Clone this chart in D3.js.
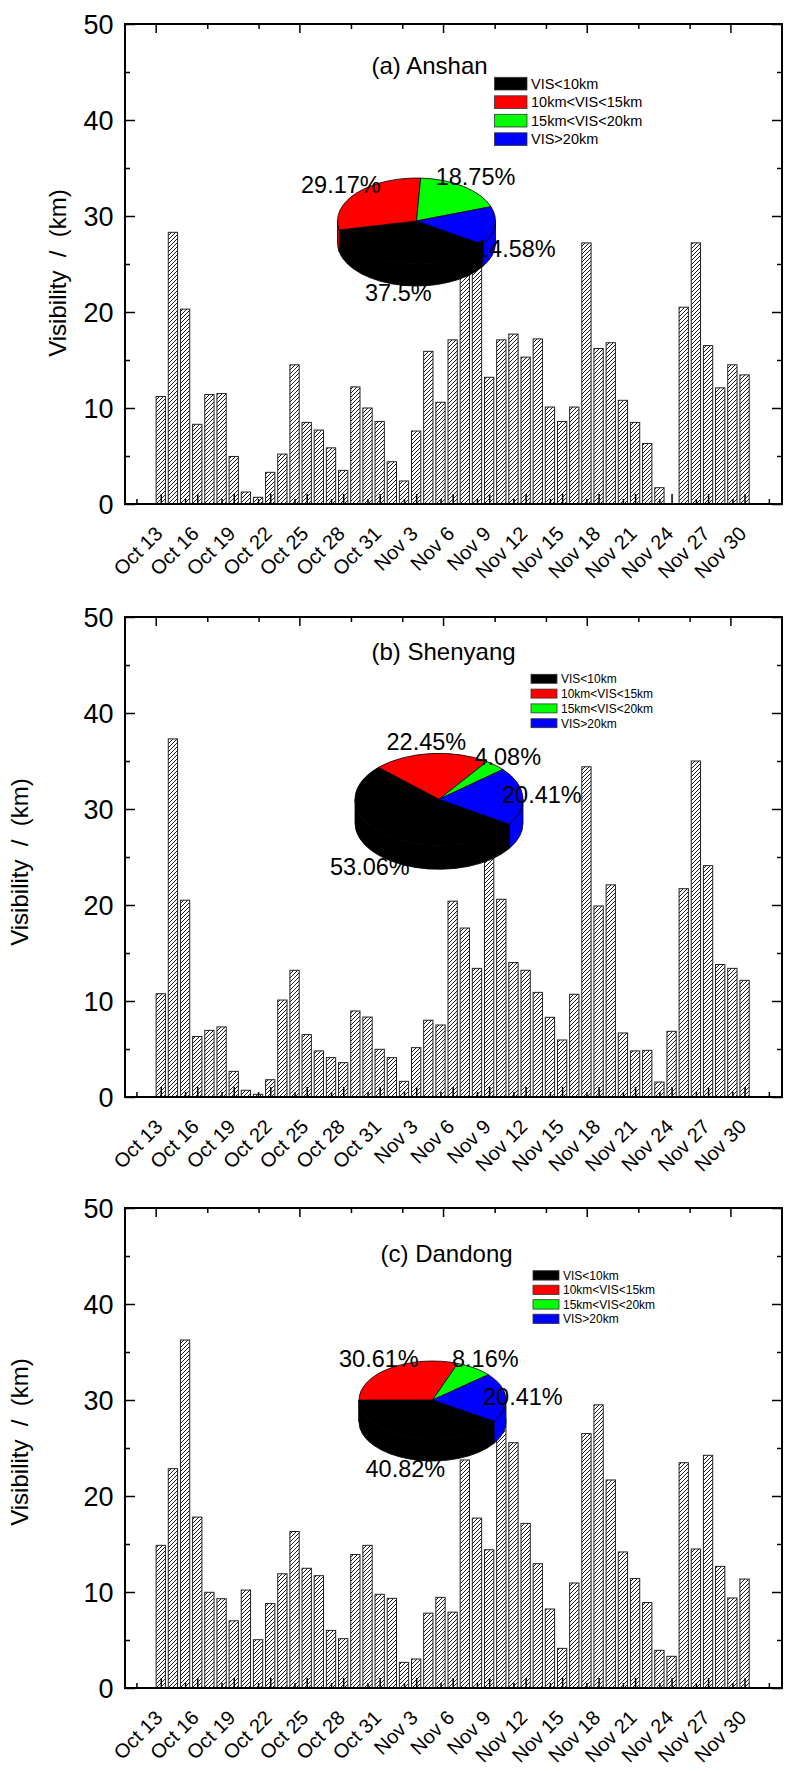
<!DOCTYPE html>
<html>
<head>
<meta charset="utf-8">
<script src="https://cdn.jsdelivr.net/npm/d3@7/dist/d3.min.js"></script>
<style>
  body { margin: 0; background: #fff; }
  text { font-family: Arial, "Liberation Sans", sans-serif; fill: #000; }
</style>
</head>
<body>
<svg id="chart" width="787" height="1771"></svg>
<script>
// --- data ---
const days = [
  "Oct 13","Oct 14","Oct 15","Oct 16","Oct 17","Oct 18","Oct 19","Oct 20","Oct 21","Oct 22",
  "Oct 23","Oct 24","Oct 25","Oct 26","Oct 27","Oct 28","Oct 29","Oct 30","Oct 31","Nov 1",
  "Nov 2","Nov 3","Nov 4","Nov 5","Nov 6","Nov 7","Nov 8","Nov 9","Nov 10","Nov 11",
  "Nov 12","Nov 13","Nov 14","Nov 15","Nov 16","Nov 17","Nov 18","Nov 19","Nov 20","Nov 21",
  "Nov 22","Nov 23","Nov 24","Nov 25","Nov 26","Nov 27","Nov 28","Nov 29","Nov 30"
];
const tickLabels = ["Oct 13","Oct 16","Oct 19","Oct 22","Oct 25","Oct 28","Oct 31","Nov 3",
  "Nov 6","Nov 9","Nov 12","Nov 15","Nov 18","Nov 21","Nov 24","Nov 27","Nov 30"];

const anshanVis = [11.2, 28.3, 20.3, 8.3, 11.4, 11.5, 4.95, 1.25, 0.7, 3.3,
  5.2, 14.5, 8.5, 7.7, 5.85, 3.5, 12.2, 10.0, 8.6, 4.4,
  2.4, 7.6, 15.9, 10.6, 17.1, 27.5, 29.0, 13.2, 17.1, 17.7,
  15.3, 17.2, 10.1, 8.6, 10.1, 27.2, 16.2, 16.8, 10.8, 8.5,
  6.3, 1.7, null, 20.5, 27.2, 16.5, 12.1, 14.5, 13.45];
const shenyangVis = [10.76, 37.3, 20.5, 6.3, 6.94, 7.3, 2.67, 0.7, 0.28, 1.8,
  10.1, 13.2, 6.5, 4.8, 4.1, 3.58, 8.96, 8.33, 4.97, 4.1,
  1.63, 5.14, 8.0, 7.5, 20.4, 17.6, 13.4, 28.5, 20.6, 14.0,
  13.2, 10.9, 8.3, 5.94, 10.7, 34.4, 19.9, 22.1, 6.67, 4.8,
  4.86, 1.56, 6.84, 21.7, 35.0, 24.1, 13.8, 13.4, 12.15];
const dandongVis = [14.86, 22.85, 36.25, 17.8, 9.97, 9.3, 7.0, 10.2, 5.03, 8.8,
  11.9, 16.3, 12.47, 11.7, 6.0, 5.14, 13.9, 14.86, 9.76, 9.34,
  2.67, 3.02, 7.8, 9.44, 7.9, 23.75, 17.7, 14.4, 28.0, 25.55,
  17.15, 12.95, 8.23, 4.13, 10.94, 26.5, 29.5, 21.67, 14.17, 11.4,
  8.9, 3.92, 3.3, 23.47, 14.48, 24.24, 12.67, 9.38, 11.35];

const visClasses = ["VIS<10km", "10km<VIS<15km", "15km<VIS<20km", "VIS>20km"];
const classColors = ["#000000", "#ff0000", "#00ff00", "#0000ff"];
const anshanPct = [37.5, 29.17, 18.75, 14.58];
const shenyangPct = [53.06, 22.45, 4.08, 20.41];
const dandongPct = [40.82, 30.61, 8.16, 20.41];

const yTicks = [0, 10, 20, 30, 40, 50];
const yMinor = [5, 15, 25, 35, 45];

// --- layout of the three panels ---
const panels = [
  { title: "(a) Anshan", vis: anshanVis, pct: anshanPct, top: 24,
    titleX: 371.5, titleY: 74, ylabX: 66, ylabY: 273,
    legend: { x: 494.5, y: 77.3, w: 32.5, h: 12.7, step: 18.5, fs: 14.5 },
    pie: { cx: 416.5, cy: 221, rx: 79, ry: 43, depth: 22 },
    labels: [[365, 301], [301, 193], [435.7, 185], [476, 257]] },
  { title: "(b) Shenyang", vis: shenyangVis, pct: shenyangPct, top: 617,
    titleX: 371.5, titleY: 660, ylabX: 28, ylabY: 862,
    legend: { x: 531, y: 674.3, w: 26, h: 9, step: 14.8, fs: 12 },
    pie: { cx: 439, cy: 799.3, rx: 84, ry: 46, depth: 24 },
    labels: [[330, 875], [386.5, 750], [474.4, 765], [502, 803]] },
  { title: "(c) Dandong", vis: dandongVis, pct: dandongPct, top: 1208,
    titleX: 380.5, titleY: 1262, ylabX: 28, ylabY: 1442,
    legend: { x: 533, y: 1270.7, w: 26, h: 9.4, step: 14.5, fs: 12 },
    pie: { cx: 432.5, cy: 1400, rx: 73.5, ry: 39, depth: 22 },
    labels: [[365.5, 1477], [339, 1367], [452, 1367], [483, 1405]] }
];

const left = 125, right = 782, plotH = 480;
const svg = d3.select("#chart");

// hatch for the bars
const pat = svg.append("defs").append("pattern")
  .attr("id", "hatch").attr("patternUnits", "userSpaceOnUse")
  .attr("width", 4).attr("height", 4);
pat.append("rect").attr("width", 4).attr("height", 4).attr("fill", "#fff");
pat.append("path").attr("d", "M-1,1 l2,-2 M0,4 l4,-4 M3,5 l2,-2")
  .attr("stroke", "#000").attr("stroke-width", 0.9);

// x in days from Oct 13
const x = d3.scaleLinear().domain([-2.94, 51.08]).range([left, right]);
const barW = 9.3;
const majorDays = d3.range(0, 49, 3);
const minorDays = [-2].concat(d3.range(2, 51, 3));

// top axis has its own spacing in the original
const xTop = d3.scaleLinear().domain([0, 4]).range([155.7, 730.4]);
const topMajor = [0, 1, 2, 3, 4];
const topMinor = [0.359, 0.716, 1.359, 1.716, 2.359, 2.716, 3.359, 3.716];

const START = 123 * Math.PI / 180; // black slice begins below 3 o'clock

panels.forEach(p => {
  const zero = p.top + plotH;
  const y = d3.scaleLinear().domain([0, 50]).range([zero, p.top]);
  const g = svg.append("g");

  // bars
  g.selectAll("rect.bar")
    .data(p.vis.map((v, i) => ({ i, v })).filter(d => d.v != null))
    .enter().append("rect")
    .attr("class", "bar")
    .attr("x", d => x(d.i) - barW / 2)
    .attr("y", d => y(d.v))
    .attr("width", barW)
    .attr("height", d => zero - y(d.v))
    .attr("fill", "url(#hatch)")
    .attr("stroke", "#222")
    .attr("stroke-width", 1);

  // ticks, all pointing inward
  const tickStyle = sel => {
    sel.select(".domain").remove();
    sel.selectAll("line").attr("stroke", "#000").attr("stroke-width", 1.5);
  };
  const axes = [
    [d3.axisRight(y).tickValues(yTicks).tickSize(10), `translate(${left},0)`],
    [d3.axisRight(y).tickValues(yMinor).tickSize(5), `translate(${left},0)`],
    [d3.axisLeft(y).tickValues(yTicks).tickSize(10), `translate(${right},0)`],
    [d3.axisLeft(y).tickValues(yMinor).tickSize(5), `translate(${right},0)`],
    [d3.axisTop(x).tickValues(majorDays).tickSize(10), `translate(0,${zero})`],
    [d3.axisTop(x).tickValues(minorDays).tickSize(5), `translate(0,${zero})`],
    [d3.axisBottom(xTop).tickValues(topMajor).tickSize(9), `translate(0,${p.top})`],
    [d3.axisBottom(xTop).tickValues(topMinor).tickSize(5), `translate(0,${p.top})`]
  ];
  axes.forEach(([ax, tr]) => {
    g.append("g").attr("transform", tr)
      .call(ax.tickFormat(""))
      .call(tickStyle);
  });

  // frame
  g.append("rect")
    .attr("x", left).attr("y", p.top)
    .attr("width", right - left).attr("height", plotH)
    .attr("fill", "none").attr("stroke", "#000").attr("stroke-width", 2);

  // y tick labels
  g.selectAll("text.ytl").data(yTicks).enter().append("text")
    .attr("class", "ytl")
    .attr("x", 113.5).attr("y", d => y(d) + 9.6)
    .attr("text-anchor", "end")
    .style("font-size", "27px")
    .text(d => d);

  // x tick labels, slanted
  g.selectAll("text.xtl").data(tickLabels).enter().append("text")
    .attr("class", "xtl")
    .attr("transform", (d, k) => `translate(${x(majorDays[k]) + 3},${zero + 31}) rotate(-45)`)
    .attr("text-anchor", "end")
    .style("font-size", "20px")
    .text(d => d);

  // y axis title
  g.append("text")
    .attr("transform", `translate(${p.ylabX},${p.ylabY}) rotate(-90)`)
    .attr("text-anchor", "middle")
    .style("font-size", "24px")
    .style("white-space", "pre")
    .text("Visibility  /  (km)");

  // panel title
  g.append("text")
    .attr("x", p.titleX).attr("y", p.titleY)
    .style("font-size", "24px")
    .text(p.title);

  // legend
  const L = p.legend;
  const lg = g.selectAll("g.leg").data(visClasses).enter().append("g")
    .attr("class", "leg")
    .attr("transform", (d, k) => `translate(${L.x},${L.y + k * L.step})`);
  lg.append("rect")
    .attr("width", L.w).attr("height", L.h)
    .attr("fill", (d, k) => classColors[k])
    .attr("stroke", "#333").attr("stroke-width", 0.8);
  lg.append("text")
    .attr("x", L.w + 4).attr("y", L.h / 2 + L.fs * 0.36)
    .style("font-size", L.fs + "px")
    .text(d => d);

  // 3D pie
  const c = p.pie;
  const pt = (a, dz = 0) => [c.cx + c.rx * Math.sin(a), c.cy - c.ry * Math.cos(a) + dz];
  const arcs = d3.pie().sort(null)
    .startAngle(START).endAngle(START + 2 * Math.PI)(p.pct);
  const pg = g.append("g");

  // side walls on the front half
  arcs.forEach((a, k) => {
    [0, 1].forEach(n => {
      const lo = Math.PI / 2 + 2 * Math.PI * n, hi = 3 * Math.PI / 2 + 2 * Math.PI * n;
      const s = Math.max(a.startAngle, lo), e = Math.min(a.endAngle, hi);
      if (e <= s) return;
      const p0 = pt(s), p1 = pt(e), p2 = pt(e, c.depth), p3 = pt(s, c.depth);
      pg.append("path")
        .attr("d", `M${p0}A${c.rx},${c.ry} 0 0 1 ${p1}L${p2}A${c.rx},${c.ry} 0 0 0 ${p3}Z`)
        .attr("fill", classColors[k])
        .attr("stroke", "#000").attr("stroke-width", 0.8);
    });
  });
  // top face
  arcs.forEach((a, k) => {
    const p0 = pt(a.startAngle), p1 = pt(a.endAngle);
    const large = a.endAngle - a.startAngle > Math.PI ? 1 : 0;
    pg.append("path")
      .attr("d", `M${c.cx},${c.cy}L${p0}A${c.rx},${c.ry} 0 ${large} 1 ${p1}Z`)
      .attr("fill", classColors[k])
      .attr("stroke", "#000").attr("stroke-width", 0.8);
  });

  // percentage labels
  g.selectAll("text.pct").data(p.pct).enter().append("text")
    .attr("class", "pct")
    .attr("x", (d, k) => p.labels[k][0])
    .attr("y", (d, k) => p.labels[k][1])
    .style("font-size", "23.5px")
    .text(d => d + "%");
});
</script>
</body>
</html>
